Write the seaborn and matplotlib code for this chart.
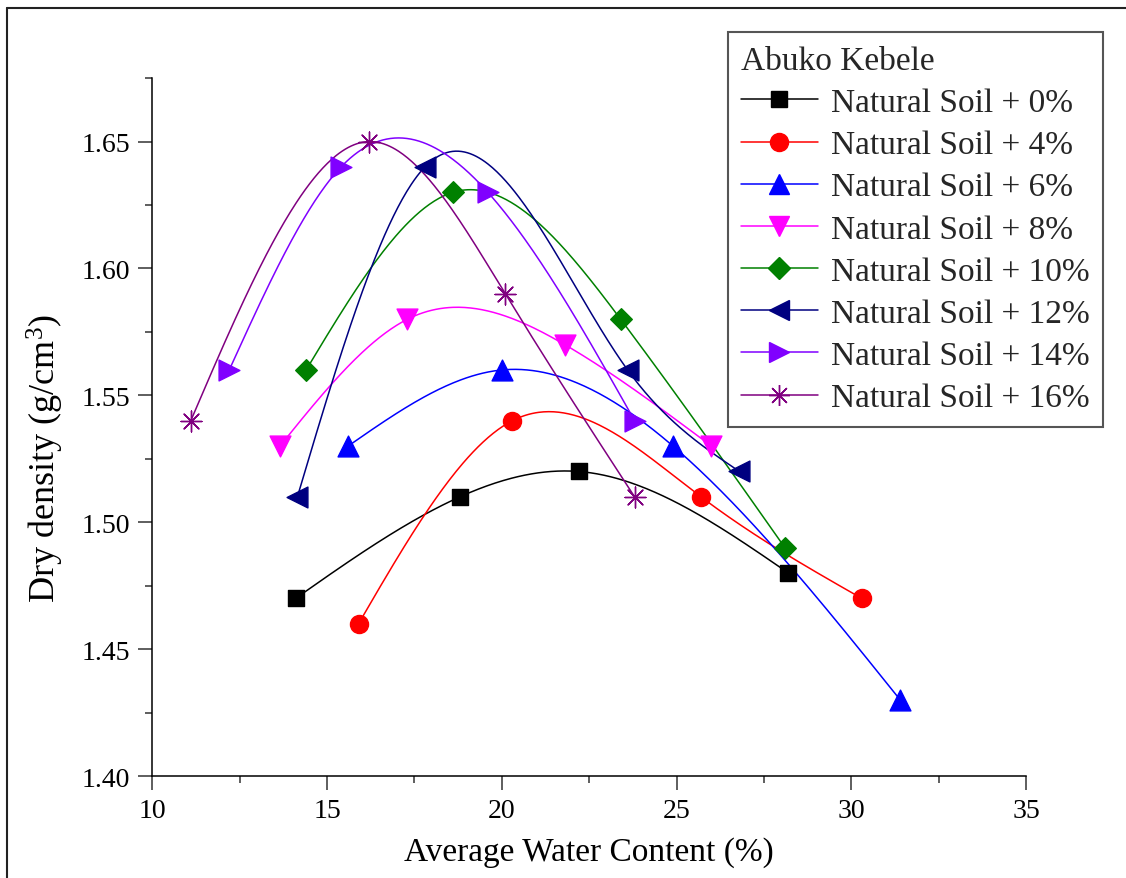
import numpy as np
import pandas as pd
import matplotlib
matplotlib.use("Agg")
import matplotlib.pyplot as plt
from matplotlib.lines import Line2D
from matplotlib.ticker import MultipleLocator, FormatStrFormatter
import seaborn as sns

# data
labels = ["Natural Soil + 0%", "Natural Soil + 4%", "Natural Soil + 6%", "Natural Soil + 8%",
          "Natural Soil + 10%", "Natural Soil + 12%", "Natural Soil + 14%", "Natural Soil + 16%"]
water_0 = [14.1, 18.8, 22.2, 28.2]
dens_0 = [1.47, 1.51, 1.52, 1.48]
water_4 = [15.9, 20.3, 25.7, 30.3]
dens_4 = [1.46, 1.54, 1.51, 1.47]
water_6 = [15.6, 20.0, 24.9, 31.4]
dens_6 = [1.53, 1.56, 1.53, 1.43]
water_8 = [13.65, 17.3, 21.8, 26.0]
dens_8 = [1.53, 1.58, 1.57, 1.53]
water_10 = [14.4, 18.6, 23.4, 28.1]
dens_10 = [1.56, 1.63, 1.58, 1.49]
water_12 = [14.15, 17.8, 23.6, 26.8]
dens_12 = [1.51, 1.64, 1.56, 1.52]
water_14 = [12.2, 15.4, 19.6, 23.8]
dens_14 = [1.56, 1.64, 1.63, 1.54]
water_16 = [11.1, 16.2, 20.1, 23.8]
dens_16 = [1.54, 1.65, 1.59, 1.51]

waters = [water_0, water_4, water_6, water_8, water_10, water_12, water_14, water_16]
densities = [dens_0, dens_4, dens_6, dens_8, dens_10, dens_12, dens_14, dens_16]

colors = ["#000000", "#FF0000", "#0000FF", "#FF00FF", "#008000", "#000080", "#8000FF", "#800080"]
markers = ["s", "o", "^", "v", "D", "<", ">", (8, 2, 0)]
msizes = [11, 13, 15, 15, 11, 15, 15, 15]


def natural_spline(x, y, n=300):
    # natural cubic spline through the points, used only to draw the smooth line
    x = np.asarray(x, float)
    y = np.asarray(y, float)
    k = len(x)
    h = np.diff(x)
    A = np.zeros((k, k))
    b = np.zeros(k)
    A[0, 0] = 1
    A[-1, -1] = 1
    for i in range(1, k - 1):
        A[i, i - 1] = h[i - 1]
        A[i, i] = 2 * (h[i - 1] + h[i])
        A[i, i + 1] = h[i]
        b[i] = 6 * ((y[i + 1] - y[i]) / h[i] - (y[i] - y[i - 1]) / h[i - 1])
    M = np.linalg.solve(A, b)
    xs = np.linspace(x[0], x[-1], n)
    idx = np.clip(np.searchsorted(x, xs) - 1, 0, k - 2)
    x0, x1 = x[idx], x[idx + 1]
    hh = x1 - x0
    ys = (M[idx] * (x1 - xs) ** 3 / (6 * hh) + M[idx + 1] * (xs - x0) ** 3 / (6 * hh)
          + (y[idx] / hh - M[idx] * hh / 6) * (x1 - xs)
          + (y[idx + 1] / hh - M[idx + 1] * hh / 6) * (xs - x0))
    return xs, ys


sns.set_theme(style="ticks")
plt.rcParams["font.family"] = ["Liberation Serif", "DejaVu Serif"]
plt.rcParams["mathtext.fontset"] = "custom"
plt.rcParams["mathtext.rm"] = "Liberation Serif"
plt.rcParams["mathtext.it"] = "Liberation Serif"

fig = plt.figure(figsize=(11.26, 8.79), dpi=100)
ax = fig.add_axes([0.1353, 0.116, 0.9112 - 0.1353, 0.910 - 0.116])

handles = []
for lab, wx, dy, c, m, ms in zip(labels, waters, densities, colors, markers, msizes):
    xs, ys = natural_spline(wx, dy)
    curve = pd.DataFrame({"x": xs, "y": ys})
    sns.lineplot(data=curve, x="x", y="y", ax=ax, color=c, lw=1.1, sort=False,
                 estimator=None, zorder=2)
    pts = pd.DataFrame({"x": wx, "y": dy})
    sns.scatterplot(data=pts, x="x", y="y", ax=ax, marker=m, s=ms ** 2, color=c,
                    edgecolor=c, linewidth=1.0, zorder=3)
    handles.append(Line2D([], [], color=c, lw=1.1, marker=m, markersize=ms,
                          markerfacecolor=c, markeredgecolor=c, markeredgewidth=1.0))

ax.set_xlim(10, 35)
ax.set_ylim(1.40, 1.675)
ax.xaxis.set_major_locator(MultipleLocator(5))
ax.xaxis.set_minor_locator(MultipleLocator(2.5))
ax.yaxis.set_major_locator(MultipleLocator(0.05))
ax.yaxis.set_minor_locator(MultipleLocator(0.025))
ax.yaxis.set_major_formatter(FormatStrFormatter("%.2f"))

sns.despine(ax=ax)
for side in ["left", "bottom"]:
    ax.spines[side].set_linewidth(1.1)
    ax.spines[side].set_color("black")
ax.tick_params(which="major", direction="out", length=10, width=1.1, color="#333333",
               labelsize=20, labelcolor="black", pad=6)
ax.tick_params(which="minor", direction="out", length=5, width=1.1, color="#333333")

ax.set_xlabel("Average Water Content (%)", fontsize=24, color="black", labelpad=9)
ax.set_ylabel("Dry density (g/cm$^{3}$)", fontsize=26, color="black")
ax.yaxis.set_label_coords(-0.099, 0.457)

leg = ax.legend(handles, labels, title="Abuko Kebele", loc="upper right",
                bbox_to_anchor=(1103 / 1126, 1 - 33 / 879), bbox_transform=fig.transFigure,
                borderaxespad=0, fontsize=24, title_fontsize=24, frameon=True, fancybox=False,
                handlelength=2.3, handletextpad=0.4, labelspacing=0.35, borderpad=0.4,
                alignment="left")
leg.get_frame().set_edgecolor("#555555")
leg.get_frame().set_linewidth(1.5)
leg.get_frame().set_alpha(1)

# partial outer frame (top and left edges) as in the source screenshot
fig.add_artist(Line2D([7 / 1126, 1], [1 - 9 / 879, 1 - 9 / 879], transform=fig.transFigure,
                      color="#222222", lw=1.5))
fig.add_artist(Line2D([7 / 1126, 7 / 1126], [0, 1 - 9 / 879], transform=fig.transFigure,
                      color="#222222", lw=1.5))

fig.savefig("out.png", dpi=100)
